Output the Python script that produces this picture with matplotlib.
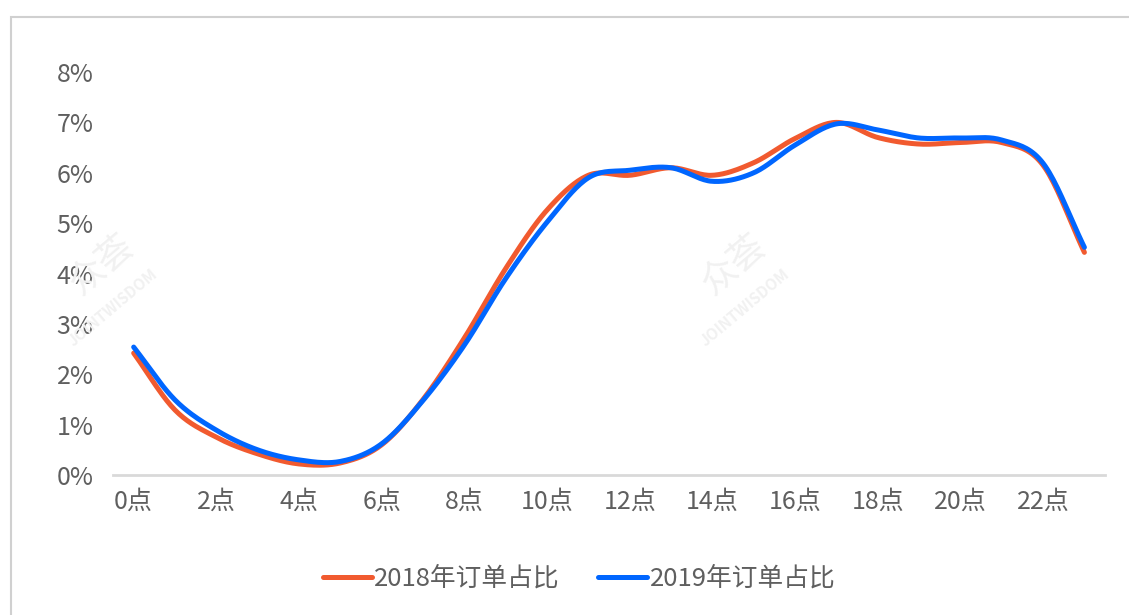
import matplotlib
matplotlib.use("Agg")
import matplotlib.pyplot as plt
from matplotlib.patches import Rectangle
import numpy as np

plt.rcParams['font.family'] = ['Noto Sans CJK SC', 'DejaVu Sans']

# hourly order share (%)
hours = list(range(24))
share_2018 = [2.42, 1.29, 0.75, 0.42, 0.22, 0.24, 0.60, 1.50, 2.72, 4.10, 5.26, 5.95,
              5.95, 6.10, 5.95, 6.20, 6.68, 7.00, 6.70, 6.57, 6.60, 6.60, 6.15, 4.42]
share_2019 = [2.54, 1.49, 0.89, 0.50, 0.30, 0.27, 0.62, 1.48, 2.58, 3.90, 5.02, 5.90,
              6.05, 6.10, 5.83, 6.00, 6.55, 6.97, 6.85, 6.69, 6.69, 6.65, 6.19, 4.52]
series_names = ['2018年订单占比', '2019年订单占比']
tick_hours = list(range(0, 24, 2))
tick_labels = [f'{h}点' for h in tick_hours]
yticks = list(range(0, 9))

ORANGE = '#F15A2F'
BLUE = '#0066FF'
TEXT = '#5F5F5F'


def smooth(x, y, n=20):
    # catmull-rom spline through the points, like Excel's smoothed line
    x = np.asarray(x, float)
    y = np.asarray(y, float)
    px = np.concatenate([[2 * x[0] - x[1]], x, [2 * x[-1] - x[-2]]])
    py = np.concatenate([[2 * y[0] - y[1]], y, [2 * y[-1] - y[-2]]])
    xs, ys = [], []
    t = np.linspace(0, 1, n, endpoint=False)
    for i in range(1, len(px) - 2):
        for p, out in ((px, xs), (py, ys)):
            p0, p1, p2, p3 = p[i - 1], p[i], p[i + 1], p[i + 2]
            out.append(0.5 * (2 * p1 + (-p0 + p2) * t
                              + (2 * p0 - 5 * p1 + 4 * p2 - p3) * t ** 2
                              + (-p0 + 3 * p1 - 3 * p2 + p3) * t ** 3))
    xs.append([x[-1]])
    ys.append([y[-1]])
    return np.concatenate(xs), np.concatenate(ys)


fig = plt.figure(figsize=(11.29, 6.15), dpi=100)
ax = fig.add_axes([0.1001, 0.2276, 0.8787, 0.6553])

# outer frame
fig.patches.append(Rectangle((11 / 1129, -0.05), 1.2, 1 - 17 / 615 + 0.05,
                             transform=fig.transFigure, fill=False,
                             edgecolor='#D0D0D0', linewidth=1.5))

# faint watermarks
for (wx, wy) in [(0.0, 0.50), (0.56, 0.50)]:
    fig.text(wx + 0.09, wy + 0.07, '众荟', fontsize=26, color='#F1F1F1',
             rotation=40, ha='center', va='center', zorder=0)
    fig.text(wx + 0.10, wy + 0.00, 'JOINTWISDOM', fontsize=11, color='#F1F1F1',
             rotation=40, ha='center', va='center', zorder=0, fontweight='bold')

sx, sy = smooth(hours, share_2018)
ax.plot(sx, sy, color=ORANGE, linewidth=3.6, solid_capstyle='round',
        label=series_names[0], zorder=3)
sx, sy = smooth(hours, share_2019)
ax.plot(sx, sy, color=BLUE, linewidth=3.6, solid_capstyle='round',
        label=series_names[1], zorder=4)

ax.set_xlim(-0.5, 23.5)
ax.set_ylim(0, 8)
ax.set_xticks(tick_hours)
ax.set_xticklabels(tick_labels)
ax.set_yticks(yticks)
ax.set_yticklabels([f'{v}%' for v in yticks])
ax.tick_params(axis='both', length=0, labelsize=18, colors=TEXT)
ax.tick_params(axis='x', pad=10)
ax.tick_params(axis='y', pad=14)
for s in ['top', 'right', 'left']:
    ax.spines[s].set_visible(False)
ax.spines['bottom'].set_color('#D9D9D9')
ax.spines['bottom'].set_linewidth(2)
ax.patch.set_alpha(0)

fig.legend(loc='center', bbox_to_anchor=(0.513, 1 - 579 / 615), ncol=2,
           frameon=False, fontsize=18.5, labelcolor=TEXT, handlelength=1.9,
           handletextpad=0.1, columnspacing=1.5)

fig.savefig('out.png', dpi=100)
